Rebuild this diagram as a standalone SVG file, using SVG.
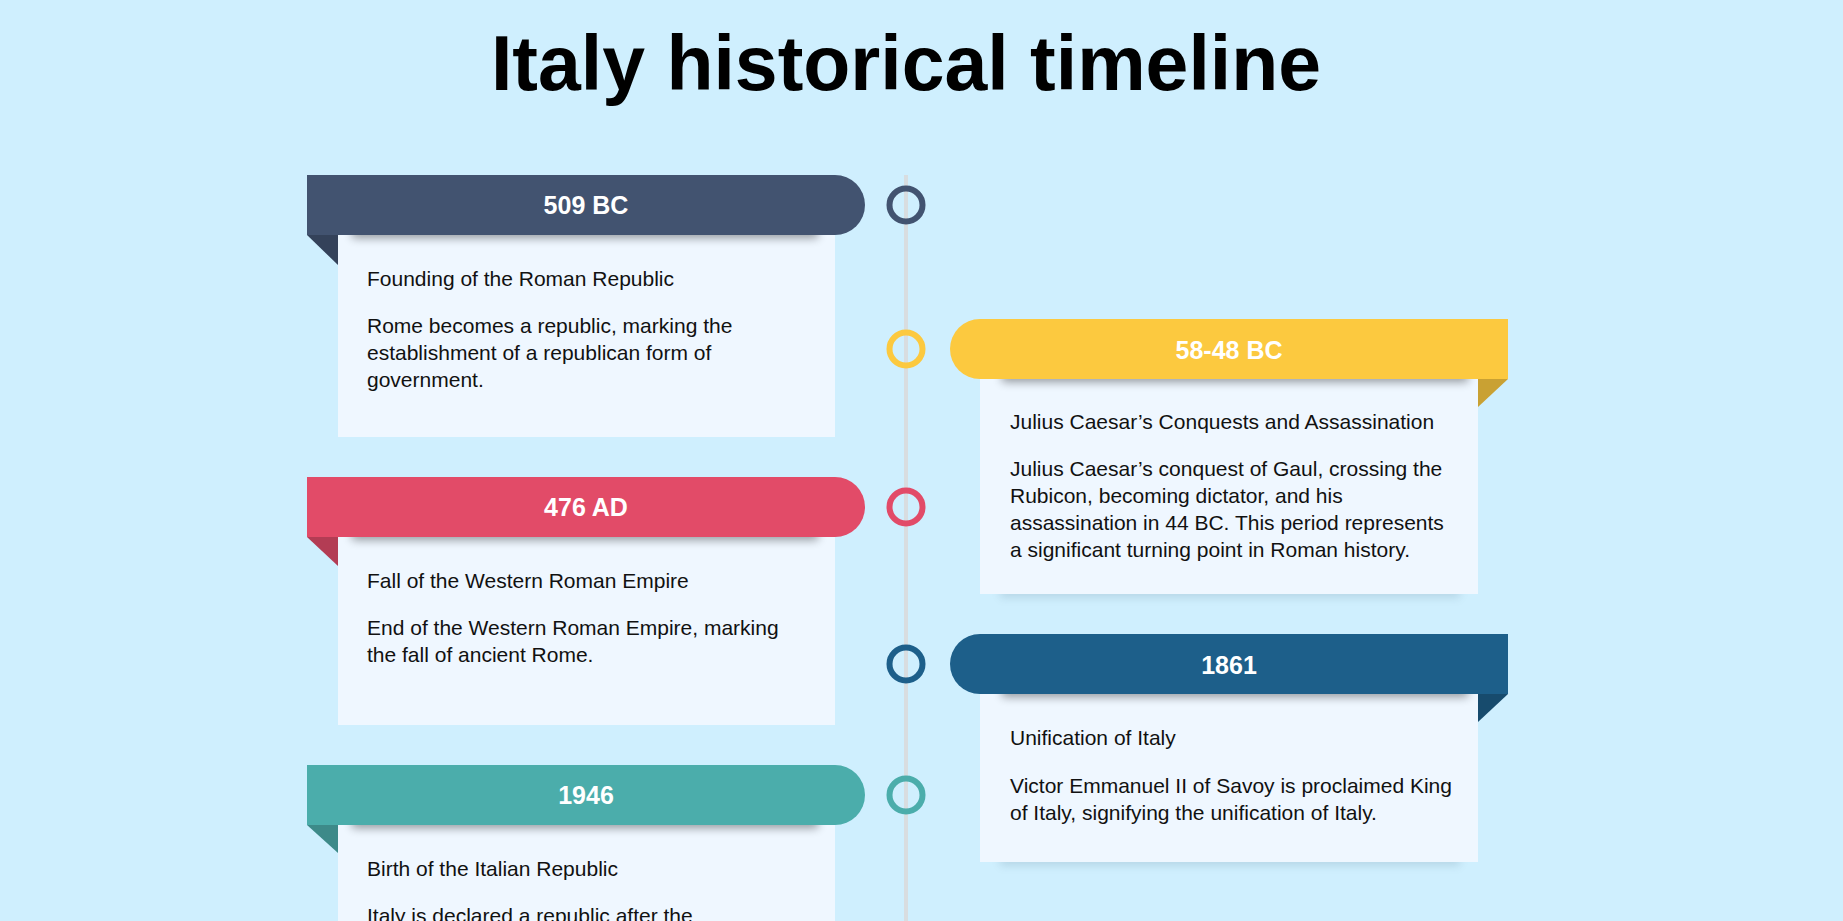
<svg xmlns="http://www.w3.org/2000/svg" width="1843" height="921" viewBox="0 0 1843 921">
<defs>
<filter id="blur" x="-20%" y="-200%" width="140%" height="500%"><feGaussianBlur stdDeviation="5"/></filter>
<filter id="blur2" x="-20%" y="-200%" width="140%" height="500%"><feGaussianBlur stdDeviation="4"/></filter>
</defs>
<style>
.bg{fill:#cfeffe}
.card{fill:#eff7ff}
.shadow{fill:#000;opacity:.38;filter:url(#blur)}
.bshadow{fill:#4a6a80;opacity:.18;filter:url(#blur2)}
.date{font-family:"Liberation Sans",Arial,sans-serif;font-weight:bold;font-size:25px;fill:#fff;text-anchor:middle}
.ttl{font-family:"Liberation Sans",Arial,sans-serif;font-size:21px;fill:#111}
.desc{font-family:"Liberation Sans",Arial,sans-serif;font-size:21px;fill:#111}
.ring{fill:none;stroke-width:6}
.head{font-family:"Liberation Sans",Arial,sans-serif;font-weight:bold;font-size:77px;fill:#000;text-anchor:middle}
</style>
<rect class="bg" x="0" y="0" width="1843" height="921"/>
<text class="head" x="906" y="90">Italy historical timeline</text>

<g id="connectors">
<line x1="906" y1="175" x2="906" y2="921" stroke="#d8dde0" stroke-width="4"/>
</g>

<g id="event-509bc">
<rect class="card" x="338" y="235" width="497" height="202"/>
<rect class="shadow" x="352" y="224" width="466" height="14"/>
<path d="M307,175 H835 A30,30 0 0 1 835,235 H307 Z" fill="#425370"/>
<polygon points="307,235 338,235 338,265" fill="#34425a"/>
<text class="date" x="586" y="214">509 BC</text>
<text class="ttl" x="367" y="286">Founding of the Roman Republic</text>
<text class="desc" x="367" y="333">Rome becomes a republic, marking the</text>
<text class="desc" x="367" y="360">establishment of a republican form of</text>
<text class="desc" x="367" y="387">government.</text>
<circle class="ring" cx="906" cy="205" r="16.5" stroke="#425370"/>
</g>

<g id="event-58-48bc">
<rect class="bshadow" x="1000" y="586" width="460" height="12"/>
<rect class="card" x="980" y="379" width="498" height="215"/>
<rect class="shadow" x="1002" y="368" width="466" height="14"/>
<path d="M980,319 H1508 V379 H980 A30,30 0 0 1 980,319 Z" fill="#fcc93f"/>
<polygon points="1478,379 1508,379 1478,407" fill="#c9a133"/>
<text class="date" x="1229" y="359">58-48 BC</text>
<text class="ttl" x="1010" y="429">Julius Caesar’s Conquests and Assassination</text>
<text class="desc" x="1010" y="476">Julius Caesar’s conquest of Gaul, crossing the</text>
<text class="desc" x="1010" y="503">Rubicon, becoming dictator, and his</text>
<text class="desc" x="1010" y="530">assassination in 44 BC. This period represents</text>
<text class="desc" x="1010" y="557">a significant turning point in Roman history.</text>
<circle class="ring" cx="906" cy="349" r="16.5" stroke="#fcc93f"/>
</g>

<g id="event-476ad">
<rect class="card" x="338" y="537" width="497" height="188"/>
<rect class="shadow" x="352" y="526" width="466" height="14"/>
<path d="M307,477 H835 A30,30 0 0 1 835,537 H307 Z" fill="#e24b68"/>
<polygon points="307,537 338,537 338,566" fill="#b33c54"/>
<text class="date" x="586" y="516">476 AD</text>
<text class="ttl" x="367" y="588">Fall of the Western Roman Empire</text>
<text class="desc" x="367" y="635">End of the Western Roman Empire, marking</text>
<text class="desc" x="367" y="662">the fall of ancient Rome.</text>
<circle class="ring" cx="906" cy="507" r="16.5" stroke="#e24b68"/>
</g>

<g id="event-1861">
<rect class="bshadow" x="1000" y="854" width="460" height="12"/>
<rect class="card" x="980" y="694" width="498" height="168"/>
<rect class="shadow" x="1002" y="683" width="466" height="14"/>
<path d="M980,634 H1508 V694 H980 A30,30 0 0 1 980,634 Z" fill="#1d5f8a"/>
<polygon points="1478,694 1508,694 1478,722" fill="#174b6d"/>
<text class="date" x="1229" y="674">1861</text>
<text class="ttl" x="1010" y="745">Unification of Italy</text>
<text class="desc" x="1010" y="793">Victor Emmanuel II of Savoy is proclaimed King</text>
<text class="desc" x="1010" y="820">of Italy, signifying the unification of Italy.</text>
<circle class="ring" cx="906" cy="664" r="16.5" stroke="#1d5f8a"/>
</g>

<g id="event-1946">
<rect class="card" x="338" y="825" width="497" height="120"/>
<rect class="shadow" x="352" y="814" width="466" height="14"/>
<path d="M307,765 H835 A30,30 0 0 1 835,825 H307 Z" fill="#4badab"/>
<polygon points="307,825 338,825 338,853" fill="#3d8a89"/>
<text class="date" x="586" y="804">1946</text>
<text class="ttl" x="367" y="876">Birth of the Italian Republic</text>
<text class="desc" x="367" y="923">Italy is declared a republic after the</text>
<circle class="ring" cx="906" cy="795" r="16.5" stroke="#4badab"/>
</g>
</svg>
